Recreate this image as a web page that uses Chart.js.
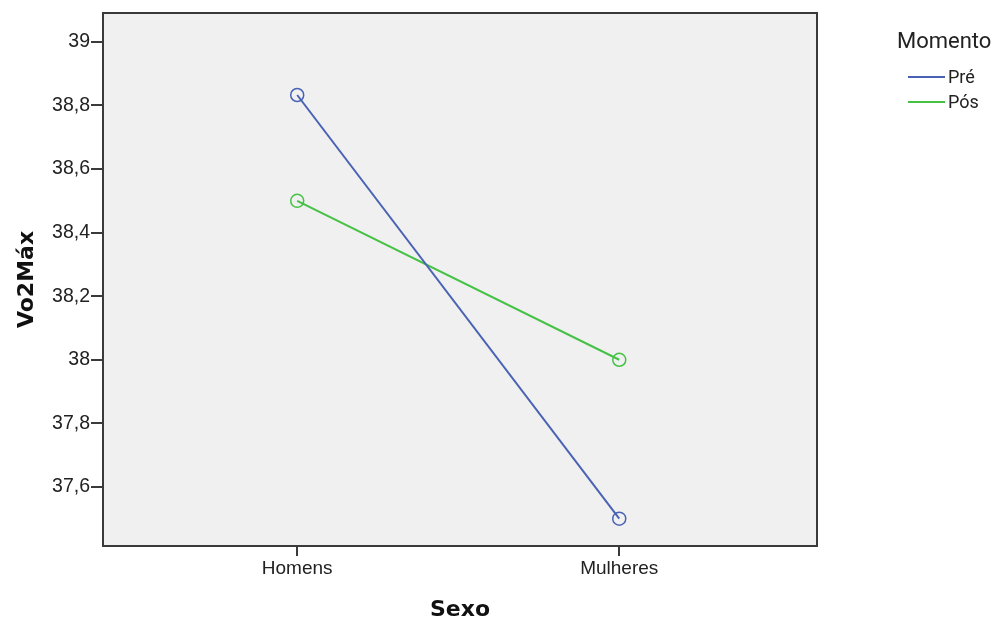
<!DOCTYPE html>
<html>
<head>
<meta charset="utf-8">
<script src="https://cdn.jsdelivr.net/npm/chart.js@4"></script>
<style>
  html, body { margin: 0; padding: 0; background: #fff; }
  #wrap { width: 995px; height: 623px; }
</style>
</head>
<body>
<div id="wrap"><canvas id="myChart" width="995" height="623"></canvas></div>
<script>
// categorias e séries
var categorias = ['Homens', 'Mulheres'];
var pre = [38.833, 37.5];
var pos = [38.5, 38.0];
var yTicks = [37.6, 37.8, 38.0, 38.2, 38.4, 38.6, 38.8, 39.0];

var AZUL = '#4a62b4';
var VERDE = '#45c245';
var FONTE = '"Liberation Sans", Arial, sans-serif';
var FONTE_TITULO = '"DejaVu Sans", sans-serif';

function pontos(vals) {
    return vals.map(function (v, i) { return { x: i, y: v }; });
}

// fundo cinza, moldura e legenda
var fundo = {
    id: 'fundo',
    beforeDraw: function (chart) {
        var a = chart.chartArea, c = chart.ctx;
        c.save();
        c.fillStyle = '#f0f0f0';
        c.fillRect(a.left, a.top, a.right - a.left, a.bottom - a.top);
        c.restore();
    },
    afterDraw: function (chart) {
        var a = chart.chartArea, c = chart.ctx;
        c.save();
        c.strokeStyle = '#3a3a3a';
        c.lineWidth = 2;
        c.strokeRect(a.left, a.top, a.right - a.left, a.bottom - a.top);

        // legenda
        c.font = '22px Roboto, sans-serif';
        c.fillStyle = '#222';
        c.textBaseline = 'middle';
        c.fillText('Momento', 897, 42);
        c.font = '18px Roboto, sans-serif';
        chart.data.datasets.forEach(function (ds, i) {
            var y = 77 + i * 25;
            c.strokeStyle = ds.borderColor;
            c.lineWidth = 2;
            c.beginPath();
            c.moveTo(908, y);
            c.lineTo(945, y);
            c.stroke();
            c.fillStyle = '#222';
            c.fillText(ds.label, 948, y + 1);
        });
        c.restore();
    }
};

var ctx = document.getElementById('myChart').getContext('2d');
new Chart(ctx, {
    type: 'line',
    data: {
        datasets: [
            { label: 'Pré', data: pontos(pre), borderColor: AZUL, backgroundColor: 'rgba(0,0,0,0)',
              borderWidth: 2, pointRadius: 6.5, pointBorderWidth: 1.5, pointBackgroundColor: 'rgba(0,0,0,0)' },
            { label: 'Pós', data: pontos(pos), borderColor: VERDE, backgroundColor: 'rgba(0,0,0,0)',
              borderWidth: 2, pointRadius: 6.5, pointBorderWidth: 1.5, pointBackgroundColor: 'rgba(0,0,0,0)' }
        ]
    },
    options: {
        responsive: false,
        animation: false,
        layout: { padding: { top: 13, right: 178, left: 0, bottom: 0 } },
        plugins: {
            legend: { display: false },
            tooltip: { enabled: false }
        },
        scales: {
            x: {
                type: 'linear',
                min: -0.603,
                max: 1.614,
                afterBuildTicks: function (s) { s.ticks = [{ value: 0 }, { value: 1 }]; },
                afterFit: function (s) { s.height = 77; },
                grid: { drawOnChartArea: false, drawTicks: true, tickLength: 10, color: '#3a3a3a', lineWidth: 2 },
                border: { display: false },
                ticks: {
                    color: '#222',
                    font: { family: FONTE, size: 19 },
                    padding: 1,
                    callback: function (v) { return categorias[v]; }
                },
                title: {
                    display: true,
                    text: 'Sexo',
                    color: '#111',
                    font: { family: FONTE_TITULO, size: 22, weight: 'bold' },
                    padding: { top: 8, bottom: 0 }
                }
            },
            y: {
                min: 37.414,
                max: 39.091,
                afterBuildTicks: function (s) { s.ticks = yTicks.map(function (v) { return { value: v }; }); },
                afterFit: function (s) { s.width = 103; },
                grid: { drawOnChartArea: false, drawTicks: true, tickLength: 12, color: '#3a3a3a', lineWidth: 2 },
                border: { display: false },
                ticks: {
                    color: '#222',
                    font: { family: FONTE, size: 19.5 },
                    padding: 1,
                    callback: function (v) {
                        return (Math.round(v * 10) / 10).toString().replace('.', ',');
                    }
                },
                title: {
                    display: true,
                    text: 'Vo2Máx',
                    color: '#111',
                    font: { family: FONTE_TITULO, size: 22, weight: 'bold' },
                    padding: { top: 14, bottom: 0 }
                }
            }
        }
    },
    plugins: [fundo]
});
</script>
</body>
</html>
